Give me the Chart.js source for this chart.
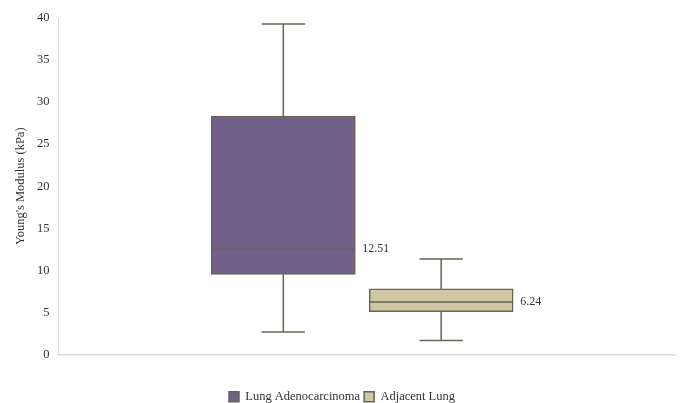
<!DOCTYPE html>
<html>
<head>
<meta charset="utf-8">
<script src="https://cdn.jsdelivr.net/npm/chart.js@4/dist/chart.umd.min.js"></script>
<style>
  html, body { margin: 0; padding: 0; background: #fff; }
  #wrap { width: 683px; height: 403px; }
</style>
</head>
<body>
<div id="wrap"><canvas id="c" width="683" height="403"></canvas></div>
<script>
// Young's modulus distributions (kPa)
const groups  = ['Lung Adenocarcinoma', 'Adjacent Lung'];
const groupX  = [0, 1];
const mins    = [2.67, 1.67];
const q1s     = [9.52, 5.10];
const medians = [12.51, 6.24];
const q3s     = [28.33, 7.80];
const maxs    = [39.3, 11.35];
const yTicks  = [0, 5, 10, 15, 20, 25, 30, 35, 40];

const fills  = ['rgb(114,95,138)', 'rgb(207,198,163)'];
const stroke = 'rgb(104,99,82)';
const serif  = '"Liberation Serif", "Times New Roman", serif';

// Whiskers, caps, medians and median labels on top of the floating bars
const boxPlotExtras = {
  id: 'boxPlotExtras',
  afterDatasetsDraw(chart) {
    const ctx = chart.ctx;
    const y = chart.scales.y;
    chart.data.datasets.forEach((ds, i) => {
      const bar = chart.getDatasetMeta(i).data[0];
      if (!bar) return;
      const cx = bar.x;
      const half = bar.width / 2;
      const cap = bar.width * 0.15;
      const yMin = y.getPixelForValue(mins[i]);
      const yQ1 = y.getPixelForValue(q1s[i]);
      const yMed = y.getPixelForValue(medians[i]);
      const yQ3 = y.getPixelForValue(q3s[i]);
      const yMax = y.getPixelForValue(maxs[i]);
      ctx.save();
      ctx.strokeStyle = stroke;
      ctx.lineWidth = 1.5;
      ctx.beginPath();
      ctx.moveTo(cx, yQ3); ctx.lineTo(cx, yMax);
      ctx.moveTo(cx - cap, yMax); ctx.lineTo(cx + cap, yMax);
      ctx.moveTo(cx, yQ1); ctx.lineTo(cx, yMin);
      ctx.moveTo(cx - cap, yMin); ctx.lineTo(cx + cap, yMin);
      ctx.moveTo(cx - half, yMed); ctx.lineTo(cx + half, yMed);
      ctx.stroke();
      ctx.fillStyle = '#333';
      ctx.font = '12px ' + serif;
      ctx.textAlign = 'left';
      ctx.textBaseline = 'middle';
      ctx.fillText(medians[i].toFixed(2), cx + half + 7, yMed);
      ctx.restore();
    });
  }
};

new Chart(document.getElementById('c'), {
  type: 'bar',
  data: {
    datasets: groups.map((g, i) => ({
      label: g,
      data: [{ x: groupX[i], y: [q1s[i], q3s[i]] }],
      backgroundColor: fills[i],
      borderColor: stroke,
      borderWidth: 1.5,
      borderSkipped: false,
      grouped: false,
      barThickness: 144
    }))
  },
  options: {
    responsive: false,
    animation: false,
    layout: { padding: { top: 18, right: 8, left: 9, bottom: -10 } },
    plugins: {
      legend: {
        position: 'bottom',
        labels: {
          font: { family: serif, size: 12.5 },
          color: '#333',
          boxWidth: 10,
          boxHeight: 10,
          padding: 4
        }
      },
      tooltip: { enabled: false }
    },
    scales: {
      x: {
        type: 'linear',
        offset: false,
        min: -1.424,
        max: 2.481,
        grid: { display: false, drawTicks: false, offset: false },
        border: { color: '#d9d9d9', width: 1.5 },
        ticks: { display: false },
        afterFit: (s) => { s.height = 32; }
      },
      y: {
        min: 0,
        max: 40,
        afterBuildTicks: (s) => { s.ticks = yTicks.map(v => ({ value: v })); },
        grid: { display: false, drawTicks: false },
        border: { color: '#d9d9d9', width: 1 },
        ticks: { font: { family: serif, size: 12.5 }, color: '#333', padding: 9 },
        title: {
          display: true,
          text: "Young's Modulus (kPa)",
          font: { family: serif, size: 12.5 },
          color: '#333',
          padding: { top: 4, bottom: 0 }
        }
      }
    }
  },
  plugins: [boxPlotExtras]
});
</script>
</body>
</html>
